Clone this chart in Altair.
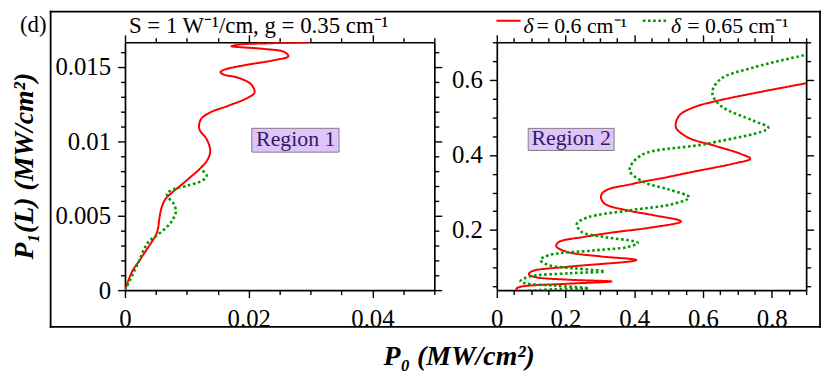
import json
import altair as alt
import pandas as pd

FONT = "Liberation Serif"

# ---------------- data ----------------
series = ["δ = 0.6 cm⁻¹", "δ = 0.65 cm⁻¹"]
series_colors = ["#ff0000", "#009900"]

# Region 1 (left panel): P0 and P1(L) in MW/cm^2, in order along each curve
r1_red_p0 = [0, 0.00117, 0.00224, 0.00331, 0.00438, 0.00502, 0.00534, 0.00556, 0.00588,
             0.00652, 0.00759, 0.00838, 0.01060, 0.01239, 0.01340, 0.01378, 0.01319,
             0.01213, 0.01197, 0.01229, 0.01373, 0.01667, 0.01987, 0.02094, 0.02040,
             0.01827, 0.01587, 0.01543, 0.01614, 0.01934, 0.02415, 0.02640, 0.02575,
             0.02255, 0.01827, 0.01720, 0.01827, 0.02308, 0.02990]
r1_red_p1 = [0, 0.00127, 0.00193, 0.00260, 0.00327, 0.00371, 0.00415, 0.00482, 0.00549,
             0.00611, 0.00655, 0.00682, 0.00760, 0.00827, 0.00880, 0.00938, 0.01015,
             0.01071, 0.01105, 0.01149, 0.01193, 0.01238, 0.01293, 0.01327, 0.01382,
             0.01427, 0.01449, 0.01465, 0.01482, 0.01511, 0.01545, 0.01571, 0.01600,
             0.01620, 0.01633, 0.01638, 0.01649, 0.01658, 0.01667]
r1_green_p0 = [0, 0.00224, 0.00304, 0.00385, 0.00491, 0.00652, 0.00759, 0.00822, 0.00785,
               0.00705, 0.00678, 0.00813, 0.00994, 0.01266, 0.01320, 0.01250]
r1_green_p1 = [0, 0.00193, 0.00271, 0.00327, 0.00360, 0.00415, 0.00465, 0.00527, 0.00582,
               0.00620, 0.00649, 0.00682, 0.00700, 0.00740, 0.00770, 0.00805]

# Region 2 (right panel)
r2_red_p0 = [0.0614, 0.0568, 0.0692, 0.204, 0.334, 0.204, 0.1076, 0.0932, 0.103, 0.204,
             0.406, 0.300, 0.204, 0.173, 0.180, 0.252, 0.348, 0.444, 0.536, 0.459, 0.382,
             0.314, 0.303, 0.307, 0.320, 0.345, 0.380, 0.420, 0.480, 0.5645, 0.689, 0.7376,
             0.709, 0.632, 0.555, 0.521, 0.531, 0.574, 0.641, 0.757, 0.901]
r2_red_p1 = [0.0376, 0.0437, 0.049, 0.057, 0.063, 0.068, 0.0755, 0.0827, 0.0906, 0.102,
             0.120, 0.130, 0.142, 0.157, 0.168, 0.1815, 0.195, 0.206, 0.223, 0.239, 0.252,
             0.270, 0.287, 0.298, 0.307, 0.314, 0.320, 0.328, 0.338, 0.354, 0.377, 0.390,
             0.403, 0.425, 0.447, 0.474, 0.505, 0.527, 0.544, 0.566, 0.591]
r2_green_p0 = [0.093, 0.170, 0.268, 0.170, 0.084, 0.069, 0.092, 0.213, 0.314, 0.228, 0.151,
               0.127, 0.151, 0.286, 0.382, 0.4105, 0.314, 0.247, 0.233, 0.266, 0.382, 0.516,
               0.5596, 0.497, 0.430, 0.3865, 0.420, 0.612, 0.790, 0.747, 0.651, 0.627, 0.651,
               0.747, 0.896]
r2_green_p1 = [0.0384, 0.0424, 0.045, 0.052, 0.058, 0.064, 0.0755, 0.085, 0.090, 0.098, 0.1065,
               0.120, 0.133, 0.146, 0.155, 0.166, 0.1815, 0.195, 0.217, 0.234, 0.252, 0.270,
               0.287, 0.309, 0.327, 0.359, 0.399, 0.430, 0.472, 0.491, 0.531, 0.566, 0.602,
               0.633, 0.666]

# axis ticks
r1_x_major = [0, 0.02, 0.04]
r1_x_ticks = [round(i * 0.005, 4) for i in range(11)]
r1_y_major = [0, 0.005, 0.01, 0.015]
r1_y_ticks = [round(i * 0.001, 4) for i in range(17)]
r2_x_major = [0, 0.2, 0.4, 0.6, 0.8]
r2_x_ticks = [round(i * 0.05, 4) for i in range(19)]
r2_y_major = [0.2, 0.4, 0.6]
r2_y_ticks = [round(i * 0.05, 4) for i in range(1, 15)]

# region label boxes (data coordinates)
r1_box = {"x0": 0.0205, "x1": 0.0346, "y0": 0.00927, "y1": 0.01087}
r1_label = {"x": 0.0276, "y": 0.0097, "t": "Region 1"}
r2_box = {"x0": 0.0914, "x1": 0.3413, "y0": 0.4119, "y1": 0.4707}
r2_label = {"x": 0.2163, "y": 0.4267, "t": "Region 2"}


def curves_df(rx, ry, gx, gy):
    rows = []
    for i, (a, b) in enumerate(zip(rx, ry)):
        rows.append({"series": series[0], "i": i, "p0": a, "p1": b})
    for i, (a, b) in enumerate(zip(gx, gy)):
        rows.append({"series": series[1], "i": i, "p0": a, "p1": b})
    return pd.DataFrame(rows)


def axis(orient, values, major, labels, pad=7):
    test = "indexof(%s, datum.value) >= 0" % json.dumps(major)
    kw = dict(orient=orient, values=values, title=None, grid=False,
              tickSize={"condition": {"test": test, "value": 7.5}, "value": 4.5},
              tickColor="black", tickWidth=1.4, domainColor="black", domainWidth=1.7,
              labelFlush=False, labelOverlap=False)
    if labels:
        kw.update(labels=True, labelExpr=f"{test} ? format(datum.value, '~g') : ''",
                  labelFont=FONT, labelFontSize=25, labelColor="black",
                  labelPadding=pad)
    else:
        kw.update(labels=False)
    return alt.Axis(**kw)


one = pd.DataFrame({"k": [0]})


def ptext(txt, x, y, size, **kw):
    return alt.Chart(one).mark_text(text=txt, font=FONT, fontSize=size, color="black",
                                    **kw).encode(x=alt.value(x), y=alt.value(y))


def prule(x1, y1, x2, y2, **kw):
    return alt.Chart(one).mark_rule(**kw).encode(
        x=alt.value(x1), y=alt.value(y1), x2=alt.value(x2), y2=alt.value(y2))


def panel(df, box, lab, xdom, ydom, xt, xmaj, yt, ymaj, extras):
    xs = alt.Scale(domain=xdom, nice=False, zero=False)
    ys = alt.Scale(domain=ydom, nice=False, zero=False)
    boxes = alt.Chart(pd.DataFrame([box])).mark_rect(
        fill="#e0c3fb", stroke="#7f7f7f", strokeWidth=1).encode(
        x=alt.X("x0:Q", scale=xs, axis=axis("top", xt, xmaj, False)),
        x2="x1:Q",
        y=alt.Y("y0:Q", scale=ys, axis=axis("right", yt, ymaj, False)),
        y2="y1:Q")
    labels = alt.Chart(pd.DataFrame([lab])).mark_text(
        font=FONT, fontSize=22, color="#2d1f5e", align="center",
        baseline="alphabetic").encode(
        x=alt.X("x:Q", scale=xs, axis=None),
        y=alt.Y("y:Q", scale=ys, axis=None),
        text="t:N")
    lines = alt.Chart(df).mark_line(clip=True, interpolate="catmull-rom").encode(
        x=alt.X("p0:Q", scale=xs, axis=axis("bottom", xt, xmaj, True, 9)),
        y=alt.Y("p1:Q", scale=ys, axis=axis("left", yt, ymaj, True, 7)),
        color=alt.Color("series:N", scale=alt.Scale(domain=series, range=series_colors),
                        legend=None),
        strokeDash=alt.StrokeDash("series:N",
                                  scale=alt.Scale(domain=series, range=[[1, 0], [2.6, 2.6]]),
                                  legend=None),
        strokeWidth=alt.StrokeWidth("series:N",
                                    scale=alt.Scale(domain=series, range=[2.0, 2.6]),
                                    legend=None),
        detail="series:N",
        order="i:Q")
    return alt.layer(boxes, labels, lines, *extras).resolve_axis(
        x="independent", y="independent").properties(width=312, height=250)


left_extras = [
    prule(-118, -31, -117, -31, strokeOpacity=0),
    prule(-75, -31, 701, -31, color="black", strokeWidth=1.8, strokeCap="square"),
    prule(-75, 287, 701, 287, color="black", strokeWidth=1.8, strokeCap="square"),
    prule(-75, -31, -75, 287, color="black", strokeWidth=1.8, strokeCap="square"),
    prule(701, -31, 701, 287, color="black", strokeWidth=1.8, strokeCap="square"),
    ptext("P₁(L) (MW/cm²)", -101, 125, 28, fontWeight="bold", fontStyle="italic",
          angle=270, align="center", baseline="middle"),
    ptext("P₀ (MW/cm²)", 337, 326, 28, fontWeight="bold", fontStyle="italic",
          align="center", baseline="alphabetic"),
    ptext("(d)", -106, -10, 23, align="left", baseline="alphabetic"),
    ptext("S = 1 W⁻¹/cm, g = 0.35 cm⁻¹", 4, -9, 23, align="left", baseline="alphabetic"),
]

right_extras = [
    prule(-0.3, -21.7, 24, -21.7, color=series_colors[0], strokeWidth=2),
    ptext("δ", 27, -9, 22, fontStyle="italic", align="left", baseline="alphabetic"),
    ptext("= 0.6 cm⁻¹", 40, -9, 22, align="left", baseline="alphabetic"),
    prule(147.3, -21.7, 172.3, -21.7, color=series_colors[1], strokeWidth=2.6,
          strokeDash=[2.6, 2.6]),
    ptext("δ", 175.7, -9, 22, fontStyle="italic", align="left", baseline="alphabetic"),
    ptext("= 0.65 cm⁻¹", 192, -9, 22, align="left", baseline="alphabetic"),
]

left = panel(curves_df(r1_red_p0, r1_red_p1, r1_green_p0, r1_green_p1), r1_box, r1_label,
             [0, 0.05], [0, 0.01665], r1_x_ticks, r1_x_major, r1_y_ticks, r1_y_major,
             left_extras)
right = panel(curves_df(r2_red_p0, r2_red_p1, r2_green_p0, r2_green_p1), r2_box, r2_label,
              [0, 0.9], [0.04, 0.70], r2_x_ticks, r2_x_major, r2_y_ticks, r2_y_major,
              right_extras)

chart = alt.hconcat(left, right, spacing=63, bounds="flush").properties(
    padding=0, background="white").configure_view(stroke=None).configure_axis(
    labelFont=FONT, labelFontSize=25, labelColor="black").configure_text(font=FONT)

chart.save("out.html", embed_options={"renderer": "svg", "actions": False})
